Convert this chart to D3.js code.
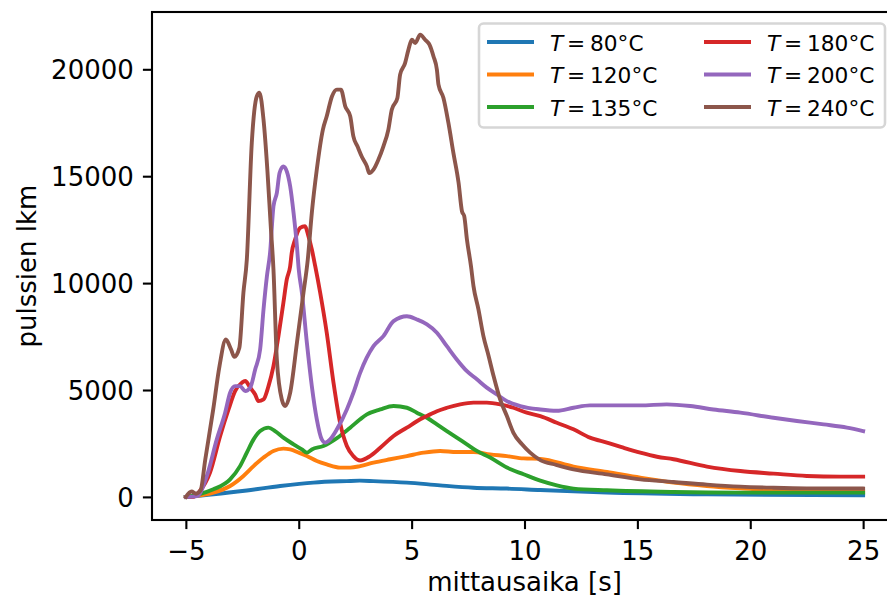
<!DOCTYPE html>
<html>
<head>
<meta charset="utf-8">
<script src="https://cdn.jsdelivr.net/npm/d3@7"></script>
<style>
  body { margin: 0; background: #fff; }
  svg { display: block; font-family: "DejaVu Sans", sans-serif; }
</style>
</head>
<body>
<div id="chart"></div>
<script>
// lämpötilat ja värit
const temps = [80, 120, 135, 180, 200, 240];
const colors = ['#1f77b4', '#ff7f0e', '#2ca02c', '#d62728', '#9467bd', '#8c564b'];

// T = 80 °C
const t80 = [-5, -3.78, -2.3, -0.82, 0.65, 2.13, 2.7, 3.31, 4.79, 6.26, 7.74, 9.22, 10.7, 13.65, 18.08, 25];
const n80 = [0, 120, 300, 510, 670, 740, 760, 740, 670, 540, 430, 390, 320, 200, 120, 75];

// T = 120 °C
const t120 = [-5, -4.5, -3.78, -3.04, -2.45, -2.0, -1.56, -1.12, -0.68, -0.38, 0, 0.36, 0.8, 1.24, 1.83, 2.28, 2.72, 3.31, 4.05, 4.79, 5.53, 6.26, 7.0, 7.74, 8.48, 9.22, 9.96, 10.7, 12.17, 13.65, 15.13, 16.6, 18.08, 19.56, 21.03, 25];
const n120 = [0, 50, 200, 510, 980, 1440, 1840, 2150, 2260, 2220, 2070, 1910, 1680, 1520, 1370, 1370, 1440, 1600, 1760, 1910, 2070, 2150, 2100, 2100, 1990, 1910, 1800, 1780, 1415, 1165, 900, 670, 510, 400, 320, 260];

// T = 135 °C
const t135 = [-5, -4.5, -3.78, -3.04, -2.6, -2.3, -2.0, -1.71, -1.34, -1.05, -0.68, -0.23, 0.14, 0.36, 0.58, 1.09, 1.69, 2.28, 2.72, 3.02, 3.61, 4.2, 4.79, 5.23, 5.68, 6.12, 6.56, 7.0, 7.45, 7.89, 8.48, 9.22, 9.96, 10.7, 11.43, 12.17, 13.65, 16.6, 19.56, 25];
const n135 = [0, 100, 355, 820, 1440, 2070, 2690, 3080, 3240, 3080, 2770, 2460, 2220, 2070, 2220, 2380, 2750, 3240, 3630, 3860, 4090, 4250, 4170, 3940, 3700, 3390, 3080, 2770, 2460, 2150, 1840, 1370, 1060, 760, 540, 390, 310, 230, 200, 200];

// T = 180 °C
const t180 = [-5, -4.67, -4.4, -3.93, -3.48, -3.11, -2.82, -2.52, -2.37, -2.15, -1.93, -1.79, -1.56, -1.34, -1.12, -0.9, -0.68, -0.53, -0.38, -0.31, -0.16, 0.06, 0.28, 0.43, 0.58, 0.73, 0.95, 1.24, 1.54, 1.83, 2.13, 2.42, 2.72, 3.16, 3.61, 4.2, 4.79, 5.38, 5.82, 6.12, 6.56, 7.15, 7.74, 8.33, 8.92, 9.51, 10.1, 10.7, 11.43, 12.17, 12.9, 13.65, 14.38, 15.13, 15.87, 16.6, 18.08, 19.56, 21.03, 22.5, 23.99, 25];
const n180 = [0, 0, 250, 1140, 2850, 4090, 4950, 5340, 5420, 5110, 4790, 4480, 4560, 5180, 6120, 7520, 9080, 10170, 10790, 11420, 12040, 12580, 12660, 12190, 11570, 10790, 9550, 7680, 5340, 3470, 2380, 1910, 1700, 1910, 2300, 2850, 3240, 3630, 3860, 4010, 4170, 4330, 4410, 4410, 4330, 4170, 3940, 3780, 3470, 3160, 2770, 2540, 2300, 2070, 1880, 1760, 1420, 1210, 1090, 980, 950, 950];

// T = 200 °C
const t200 = [-5, -4.5, -4.07, -3.63, -3.26, -3.04, -2.82, -2.6, -2.37, -2.15, -1.93, -1.71, -1.56, -1.41, -1.27, -1.12, -0.97, -0.85, -0.68, -0.53, -0.38, -0.23, -0.08, 0.0, 0.14, 0.36, 0.58, 0.8, 1.02, 1.17, 1.39, 1.69, 2.13, 2.42, 2.72, 3.31, 3.75, 4.2, 4.79, 5.23, 5.68, 6.12, 6.56, 7.0, 7.45, 7.89, 8.33, 8.78, 9.22, 9.81, 10.7, 11.43, 12.17, 12.9, 13.65, 15.13, 16.3, 17.34, 18.37, 19.56, 21.03, 22.07, 23.25, 24.28, 25];
const n200 = [0, 40, 980, 2690, 3940, 4870, 5180, 5180, 4950, 5110, 5960, 6900, 8770, 10320, 11420, 13590, 14220, 15150, 15460, 15230, 14530, 13290, 11720, 10640, 9550, 7210, 5180, 3630, 2690, 2540, 2690, 3160, 4090, 4870, 5800, 7050, 7520, 8220, 8450, 8300, 8070, 7680, 7050, 6430, 5880, 5500, 5110, 4790, 4480, 4250, 4090, 4030, 4170, 4280, 4280, 4280, 4330, 4250, 4090, 3940, 3700, 3550, 3390, 3240, 3080];

// T = 240 °C
const t240 = [-5, -4.75, -4.55, -4.35, -4.14, -3.79, -3.51, -3.23, -3.0, -2.85, -2.63, -2.45, -2.3, -2.08, -1.86, -1.74, -1.56, -1.39, -1.24, -1.12, -0.97, -0.75, -0.6, -0.38, -0.08, 0.21, 0.4, 0.58, 0.8, 1.07, 1.24, 1.47, 1.69, 1.87, 2.06, 2.28, 2.42, 2.6, 2.8, 3.02, 3.12, 3.31, 3.53, 3.75, 3.97, 4.12, 4.37, 4.49, 4.71, 4.86, 5.01, 5.16, 5.38, 5.6, 5.79, 5.97, 6.12, 6.19, 6.41, 6.63, 6.85, 7.08, 7.23, 7.33, 7.45, 7.63, 7.74, 7.96, 8.18, 8.41, 8.63, 8.92, 9.22, 9.51, 9.89, 10.25, 10.7, 11.4, 12.17, 13.65, 15.13, 16.6, 18.08, 19.56, 21.03, 22.5, 25];
const n240 = [0, 250, 150, 300, 1750, 4080, 6120, 7360, 6900, 6550, 6980, 9560, 11100, 16560, 18730, 18900, 17640, 15300, 12660, 10640, 6430, 4560, 4250, 4870, 7210, 9550, 11100, 13290, 15310, 17180, 17800, 18730, 19050, 19050, 18270, 17800, 16860, 16400, 15900, 15460, 15150, 15310, 15780, 16400, 17180, 18110, 18660, 19750, 20290, 20920, 21380, 21230, 21620, 21380, 21150, 20600, 19980, 19280, 18660, 17490, 16090, 14690, 13360, 13130, 12040, 10790, 9860, 8770, 7520, 6590, 5650, 4560, 3780, 3000, 2460, 2070, 1720, 1500, 1290, 1055, 820, 700, 575, 480, 430, 400, 390];

const xTicks = [-5, 0, 5, 10, 15, 20, 25];
const yTicks = [0, 5000, 10000, 15000, 20000];

const times = [t80, t120, t135, t180, t200, t240];
const counts = [n80, n120, n135, n180, n200, n240];

const width = 887, height = 598;
const plotLeft = 152, plotRight = 897, plotTop = 12, plotBottom = 520;
const fs = 26;

const svg = d3.select('#chart').append('svg')
    .attr('width', width)
    .attr('height', height);

const x = d3.scaleLinear().domain([-6.5, 26.5]).range([plotLeft, plotRight]);
const y = d3.scaleLinear().domain([-1080, 22680]).range([plotBottom, plotTop]);

svg.append('clipPath').attr('id', 'clip')
    .append('rect')
    .attr('x', plotLeft).attr('y', plotTop)
    .attr('width', plotRight - plotLeft).attr('height', plotBottom - plotTop);

const line = d3.line()
    .x(d => x(d[0]))
    .y(d => y(d[1]))
    .curve(d3.curveMonotoneX);

const lines = svg.append('g').attr('clip-path', 'url(#clip)');
temps.forEach((T, i) => {
    const pts = times[i].map((t, j) => [t, counts[i][j]]);
    lines.append('path')
        .datum(pts)
        .attr('d', line)
        .attr('fill', 'none')
        .attr('stroke', colors[i])
        .attr('stroke-width', 3.9)
        .attr('stroke-linejoin', 'round')
        .attr('stroke-linecap', 'square');
});

// axes
const xAxis = svg.append('g')
    .attr('transform', `translate(0,${plotBottom})`)
    .call(d3.axisBottom(x).tickValues(xTicks).tickSize(9.1).tickPadding(12)
        .tickFormat(d => d < 0 ? '\u2212' + Math.abs(d) : d));
const yAxis = svg.append('g')
    .attr('transform', `translate(${plotLeft},0)`)
    .call(d3.axisLeft(y).tickValues(yTicks).tickSize(9.1).tickPadding(9.1)
        .tickFormat(d3.format('d')));

[xAxis, yAxis].forEach(a => {
    a.select('.domain').remove();
    a.selectAll('line').attr('stroke', '#000').attr('stroke-width', 2.1);
    a.selectAll('text')
        .attr('fill', '#000')
        .style('font-size', fs + 'px')
        .style('font-family', '"DejaVu Sans", sans-serif');
});
yAxis.selectAll('text').attr('dy', '0.36em');

svg.append('rect')
    .attr('x', plotLeft).attr('y', plotTop)
    .attr('width', plotRight - plotLeft).attr('height', plotBottom - plotTop)
    .attr('fill', 'none')
    .attr('stroke', '#000')
    .attr('stroke-width', 2.1);

// axis labels
svg.append('text')
    .attr('x', (plotLeft + plotRight) / 2)
    .attr('y', 591)
    .attr('text-anchor', 'middle')
    .style('font-size', fs + 'px')
    .text('mittausaika [s]');

svg.append('text')
    .attr('transform', `translate(36,${(plotTop + plotBottom) / 2}) rotate(-90)`)
    .attr('text-anchor', 'middle')
    .style('font-size', fs + 'px')
    .text('pulssien lkm');

// legend
const lfs = 21.7;
const legend = svg.append('g');
legend.append('rect')
    .attr('x', 479).attr('y', 23.5)
    .attr('width', 406).attr('height', 104)
    .attr('rx', 4.5)
    .attr('fill', 'rgba(255,255,255,0.8)')
    .attr('stroke', '#d6d6d6')
    .attr('stroke-width', 2.6);

const rowY = [42, 74.5, 107];
const colX = [487, 704];
temps.forEach((T, i) => {
    const cx = colX[Math.floor(i / 3)];
    const cy = rowY[i % 3];
    legend.append('line')
        .attr('x1', cx).attr('x2', cx + 47)
        .attr('y1', cy).attr('y2', cy)
        .attr('stroke', colors[i])
        .attr('stroke-width', 3.9);
    const tx = cx + 63;
    const txt = legend.append('text')
        .attr('y', cy + 8.5)
        .style('font-size', lfs + 'px');
    txt.append('tspan').attr('x', tx).style('font-style', 'italic').text('T');
    txt.append('tspan').attr('x', tx + 17).text('=');
    txt.append('tspan').attr('x', tx + 40).text(T + '\u00b0C');
});
</script>
</body>
</html>
